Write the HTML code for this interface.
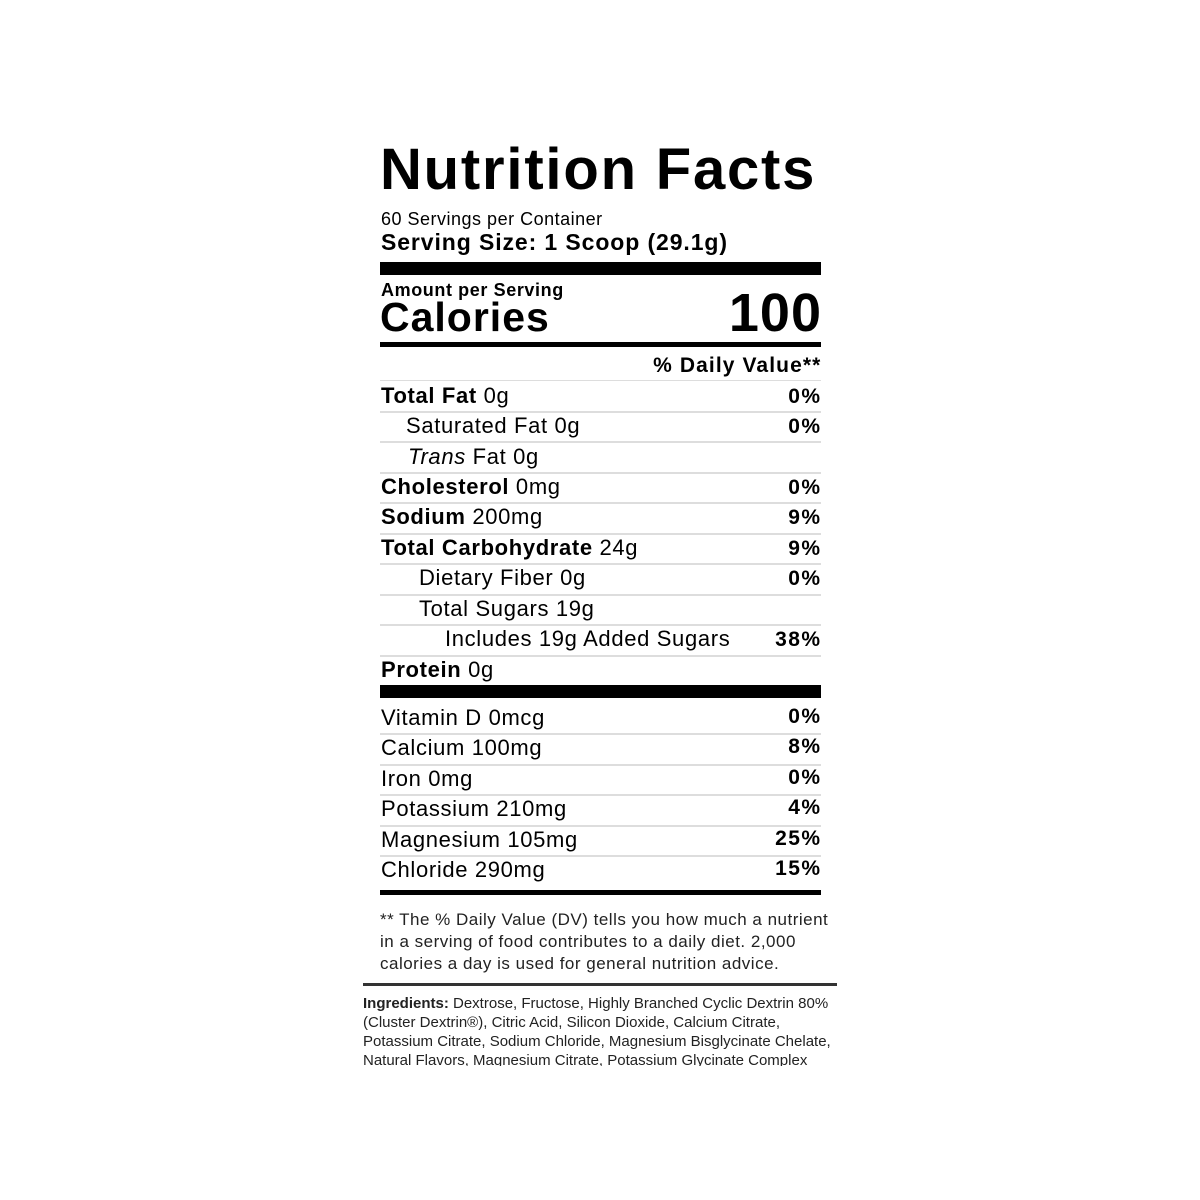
<!DOCTYPE html>
<html><head><style>
body{margin:0;width:1200px;height:1200px;background:#fff;position:relative;overflow:hidden;font-family:"Liberation Sans",Arial,sans-serif;color:#000}
.t{position:absolute;white-space:nowrap;line-height:1}
.b{font-weight:bold}
.r{position:absolute;right:380px;white-space:nowrap;line-height:1;font-weight:bold;font-size:21px;letter-spacing:1.4px;margin-right:-1.4px}
.bar{position:absolute;left:380px;width:441px;background:#000}
.sep{position:absolute;left:380px;width:441px;height:2px;background:#ddd}
.row{font-size:22px;letter-spacing:0.65px}
</style></head><body>
<div class="t b" style="left:380px;top:141px;font-size:58px;letter-spacing:1.8px">Nutrition Facts</div>
<div class="t" style="left:381px;top:210px;font-size:18px;letter-spacing:0.5px">60 Servings per Container</div>
<div class="t b" style="left:381px;top:231px;font-size:23px;letter-spacing:0.9px">Serving Size: 1 Scoop (29.1g)</div>
<div class="bar" style="top:262px;height:13px"></div>
<div class="t b" style="left:381px;top:281px;font-size:18px;letter-spacing:0.6px">Amount per Serving</div>
<div class="t b" style="left:380px;top:297px;font-size:41px;letter-spacing:1px">Calories</div>
<div class="t b" style="right:379px;top:286px;font-size:54px;letter-spacing:1px;margin-right:-1px">100</div>
<div class="bar" style="top:342px;height:5px"></div>
<div class="r" style="top:355px;letter-spacing:1.1px">% Daily Value**</div>

<div class="sep" style="top:380px;height:1px"></div>
<div class="t row" style="left:381px;top:385px"><b>Total Fat</b> 0g</div><div class="r" style="top:386px">0%</div>
<div class="sep" style="top:411px"></div>
<div class="t row" style="left:406px;top:415px">Saturated Fat 0g</div><div class="r" style="top:416px">0%</div>
<div class="sep" style="top:441px"></div>
<div class="t row" style="left:408px;top:446px"><i>Trans</i> Fat 0g</div>
<div class="sep" style="top:472px"></div>
<div class="t row" style="left:381px;top:476px"><b>Cholesterol</b> 0mg</div><div class="r" style="top:477px">0%</div>
<div class="sep" style="top:502px"></div>
<div class="t row" style="left:381px;top:506px"><b>Sodium</b> 200mg</div><div class="r" style="top:507px">9%</div>
<div class="sep" style="top:533px"></div>
<div class="t row" style="left:381px;top:537px"><b>Total Carbohydrate</b> 24g</div><div class="r" style="top:538px">9%</div>
<div class="sep" style="top:563px"></div>
<div class="t row" style="left:419px;top:567px">Dietary Fiber 0g</div><div class="r" style="top:568px">0%</div>
<div class="sep" style="top:594px"></div>
<div class="t row" style="left:419px;top:598px">Total Sugars 19g</div>
<div class="sep" style="top:624px"></div>
<div class="t row" style="left:445px;top:628px">Includes 19g Added Sugars</div><div class="r" style="top:629px">38%</div>
<div class="sep" style="top:655px"></div>
<div class="t row" style="left:381px;top:659px"><b>Protein</b> 0g</div>
<div class="bar" style="top:685px;height:13px"></div>

<div class="t row" style="left:381px;top:707px">Vitamin D 0mcg</div><div class="r" style="top:706px">0%</div>
<div class="sep" style="top:733px"></div>
<div class="t row" style="left:381px;top:737px">Calcium 100mg</div><div class="r" style="top:736px">8%</div>
<div class="sep" style="top:764px"></div>
<div class="t row" style="left:381px;top:768px">Iron 0mg</div><div class="r" style="top:767px">0%</div>
<div class="sep" style="top:794px"></div>
<div class="t row" style="left:381px;top:798px">Potassium 210mg</div><div class="r" style="top:797px">4%</div>
<div class="sep" style="top:825px"></div>
<div class="t row" style="left:381px;top:829px">Magnesium 105mg</div><div class="r" style="top:828px">25%</div>
<div class="sep" style="top:855px"></div>
<div class="t row" style="left:381px;top:859px">Chloride 290mg</div><div class="r" style="top:858px">15%</div>
<div class="bar" style="top:890px;height:5px"></div>

<div class="t" style="left:380px;top:909px;font-size:17px;line-height:22px;letter-spacing:0.5px;color:#222">** The % Daily Value (DV) tells you how much a nutrient<br>in a serving of food contributes to a daily diet. 2,000<br>calories a day is used for general nutrition advice.</div>
<div style="position:absolute;left:363px;top:983px;width:474px;height:3px;background:#333"></div>
<div class="t" style="left:363px;top:994px;font-size:15px;line-height:19px;color:#222"><b>Ingredients:</b> Dextrose, Fructose, Highly Branched Cyclic Dextrin 80%<br>(Cluster Dextrin®), Citric Acid, Silicon Dioxide, Calcium Citrate,<br>Potassium Citrate, Sodium Chloride, Magnesium Bisglycinate Chelate,<br>Natural Flavors, Magnesium Citrate, Potassium Glycinate Complex</div>
<div style="position:absolute;left:300px;top:1066px;width:600px;height:20px;background:#fff"></div>
</body></html>
